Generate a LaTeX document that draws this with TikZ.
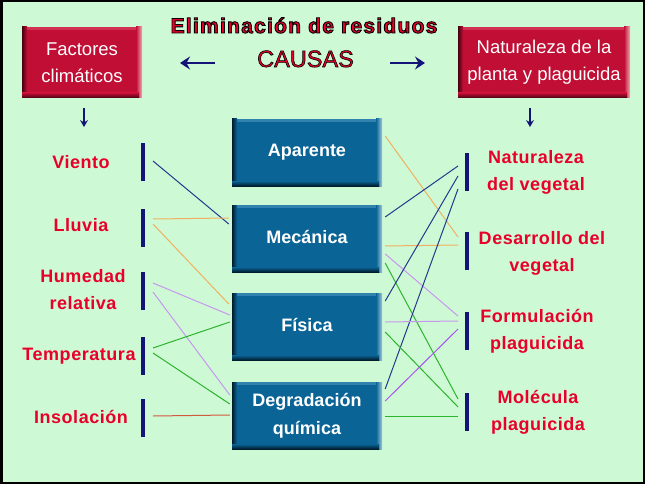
\documentclass[tikz,border=0pt]{standalone}
\usepackage{fontspec}
\setmainfont{Liberation Sans}
\usetikzlibrary{arrows.meta,calc}
\definecolor{bg}{RGB}{206,249,213}
\definecolor{boxred}{RGB}{192,14,52}
\definecolor{reddark}{RGB}{70,0,15}
\definecolor{redlight}{RGB}{240,170,185}
\definecolor{redtop}{RGB}{210,50,80}
\definecolor{boxblue}{RGB}{10,100,150}
\definecolor{bluedark}{RGB}{0,28,45}
\definecolor{bluelight}{RGB}{160,200,220}
\definecolor{bluetop}{RGB}{50,130,175}
\definecolor{labred}{RGB}{232,0,42}
\definecolor{barblue}{RGB}{20,20,120}
\definecolor{cnavy}{RGB}{36,56,140}
\definecolor{corange}{RGB}{240,176,96}
\definecolor{cpurple}{RGB}{200,150,240}
\definecolor{cviolet}{RGB}{170,80,240}
\definecolor{cgreen}{RGB}{45,180,45}
\definecolor{cred}{RGB}{208,90,60}
\newcommand{\bevelfill}[4]{%
  \fill[#4] ([yshift=-3pt]path picture bounding box.north west) rectangle (path picture bounding box.north east);
  \shade[left color=#2,right color=#1] (path picture bounding box.south west) rectangle ([xshift=5pt]path picture bounding box.north west);
  \shade[left color=#1,right color=#3] ([xshift=-6pt]path picture bounding box.south east) rectangle (path picture bounding box.north east);
  \shade[bottom color=#2,top color=#1] (path picture bounding box.south west) rectangle ([yshift=5pt,xshift=-3pt]path picture bounding box.south east);
}
\newcommand{\olbegin}[1]{\special{pdf:literal direct 0 0 0 RG 2 Tr #1 w}}
\newcommand{\olend}{\special{pdf:literal direct 0 Tr}}
\tikzset{
  redbox/.style={fill=boxred, inner sep=0pt, minimum height=71pt, text=white, align=center,
    font=\fontsize{18.5}{27}\selectfont, path picture={\bevelfill{boxred}{reddark}{redlight}{redtop}}},
  bluebox/.style={fill=boxblue, inner sep=0pt, minimum width=150pt, minimum height=67pt, text=white,
    font=\bfseries\fontsize{18}{28}\selectfont, path picture={\bevelfill{boxblue}{bluedark}{bluelight}{bluetop}}},
  lab/.style={text=labred, inner sep=0pt, align=center, font=\bfseries\fontsize{18}{27}\selectfont\addfontfeature{LetterSpace=3}},
  vbar/.style={fill=barblue, inner sep=0pt, minimum width=3.2pt, minimum height=38pt},
  link/.style={line width=1pt},
  bigarrow/.style={draw=barblue, line width=2.6pt, -{Stealth[length=10pt,width=13pt,inset=3.5pt]}},
  downarrow/.style={draw=barblue, line width=1.8pt, -{Stealth[length=7pt,width=8pt,inset=2.5pt]}},
}
\begin{document}
\begin{tikzpicture}[x=1pt,y=-1pt]
\useasboundingbox (0,0) rectangle (645,484);
\fill[bg] (0,0) rectangle (645,484);
\draw[line width=2.5pt] (1.25,1.25) rectangle (643.75,482.75);

% title
\node[anchor=base, inner sep=0pt, font=\bfseries\fontsize{21}{24}\selectfont\addfontfeature{LetterSpace=6}] (title) at (304,33)
  {\color{labred}\olbegin{0.9}Eliminación de residuos\olend};
\node[anchor=base, inner sep=0pt, font=\fontsize{23.5}{26}\selectfont] (causas) at (305.5,67)
  {\color{labred}\olbegin{0.6}CAUSAS\olend};

% top boxes
\node[redbox, minimum width=120pt] (fc) at (82,62.5) {Factores\\climáticos};
\node[redbox, minimum width=172pt] (np) at (544,62.5) {Naturaleza de la\\planta y plaguicida};

% arrows
\coordinate (la1) at (215,63);
\coordinate (la2) at (180,63);
\coordinate (ra1) at (390,63);
\coordinate (ra2) at (425,63);
\draw[bigarrow] (la1) -- (la2);
\draw[bigarrow] (ra1) -- (ra2);
\coordinate (dl1) at (84,108);
\coordinate (dl2) at (84,127);
\coordinate (dr1) at (530,108);
\coordinate (dr2) at (530,127);
\draw[downarrow] (dl1) -- (dl2);
\draw[downarrow] (dr1) -- (dr2);

% middle boxes
\node[bluebox, text height=12.5pt, text depth=3.5pt] (ap) at (307,152.5) {Aparente};
\node[bluebox, text height=12.5pt, text depth=3.5pt] (me) at (307,238.5) {Mecánica};
\node[bluebox, text height=12.5pt, text depth=3.5pt] (fi) at (307,326.5) {Física};
\node[bluebox, align=center] (de) at (307,415.5) {Degradación\\química};

% left labels and bars
\node[lab, anchor=base] (lV) at (81,168) {Viento};
\node[lab, anchor=base] (lL) at (81,231) {Lluvia};
\node[lab] (lH) at (83,289.5) {Humedad\\relativa};
\node[lab, anchor=base] (lT) at (79,360) {Temperatura};
\node[lab, anchor=base] (lI) at (81,423) {Insolación};
\node[vbar] (bV) at (143,162) {};
\node[vbar] (bL) at (143,227.5) {};
\node[vbar] (bH) at (143,291) {};
\node[vbar] (bT) at (143,356) {};
\node[vbar] (bI) at (143,418) {};

% right labels and bars
\node[lab] (rlN) at (536,172) {Naturaleza\\del vegetal};
\node[lab] (rlD) at (542,253) {Desarrollo del\\vegetal};
\node[lab] (rlF) at (537,331) {Formulación\\plaguicida};
\node[lab] (rlM) at (538,412) {Molécula\\plaguicida};
\node[vbar] (rN) at (467,172) {};
\node[vbar] (rD) at (467,251) {};
\node[vbar] (rF) at (467,330.5) {};
\node[vbar] (rM) at (467,412) {};

% left connectors
\draw[link, cnavy] ($(bV.center)+(10,-1)$) -- ($(me.west)+(-3,-14.5)$);
\draw[link, corange] ($(bL.center)+(10,-8.5)$) -- ($(me.west)+(-3,-20.5)$);
\draw[link, corange] ($(bL.center)+(10,-3.5)$) -- ($(fi.west)+(-3,-22.5)$);
\draw[link, cpurple] ($(bH.center)+(10,-8)$) -- ($(fi.west)+(-2,-11.5)$);
\draw[link, cpurple] ($(bH.center)+(10,1)$) -- ($(de.west)+(-2,-20.5)$);
\draw[link, cgreen] ($(bT.center)+(10,-8)$) -- ($(fi.west)+(-2,-4.5)$);
\draw[link, cgreen] ($(bT.center)+(10,-3)$) -- ($(de.west)+(-2,-11.5)$);
\draw[link, cred] ($(bI.center)+(10,-2)$) -- ($(de.west)+(-2,-0.5)$);

% right connectors
\draw[link, corange] ($(ap.east)+(3,-16.5)$) -- ($(rD.center)+(-9,-14)$);
\draw[link, cnavy] ($(me.east)+(3,-21.5)$) -- ($(rN.center)+(-9,-6)$);
\draw[link, corange] ($(me.east)+(3,7.5)$) -- ($(rD.center)+(-9,-6)$);
\draw[link, cpurple] ($(me.east)+(3,15.5)$) -- ($(rF.center)+(-9,-14.5)$);
\draw[link, cgreen] ($(me.east)+(3,24.5)$) -- ($(rM.center)+(-9,-13)$);
\draw[link, cnavy] ($(fi.east)+(3,-25.5)$) -- ($(rN.center)+(-9,4)$);
\draw[link, cnavy] ($(de.east)+(3,-26.5)$) -- ($(rN.center)+(-9,17)$);
\draw[link, cpurple] ($(fi.east)+(3,-4.5)$) -- ($(rF.center)+(-9,-9.5)$);
\draw[link, cgreen] ($(fi.east)+(3,5.5)$) -- ($(rM.center)+(-9,-5)$);
\draw[link, cviolet] ($(de.east)+(3,-14.5)$) -- ($(rF.center)+(-9,-1.5)$);
\draw[link, cgreen] ($(de.east)+(3,0.5)$) -- ($(rM.center)+(-9,4)$);
\end{tikzpicture}
\end{document}
